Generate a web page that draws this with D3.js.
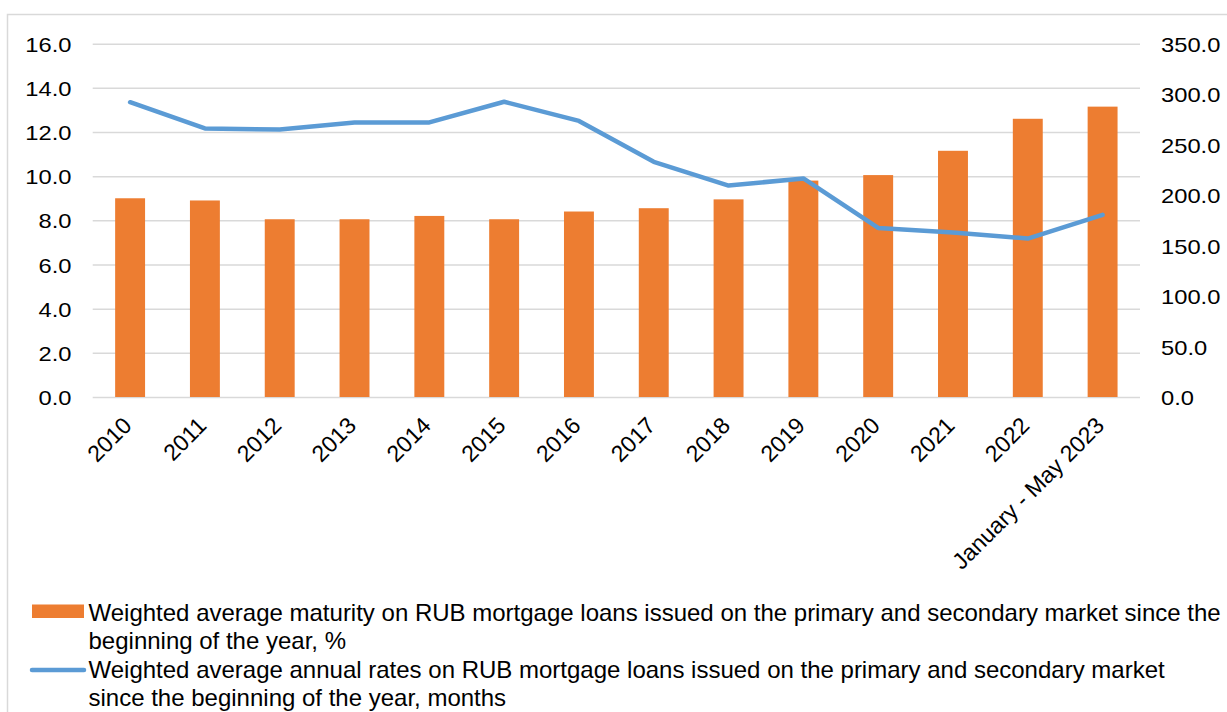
<!DOCTYPE html>
<html>
<head>
<meta charset="utf-8">
<script src="https://cdn.jsdelivr.net/npm/d3@7"></script>
<style>
  body { margin: 0; background: #fff; }
  svg { display: block; font-family: "Liberation Sans", Arial, sans-serif; }
</style>
</head>
<body>
<div id="chart"></div>
<script>
// Chart data
const categories = ['2010', '2011', '2012', '2013', '2014', '2015', '2016', '2017',
    '2018', '2019', '2020', '2021', '2022', 'January - May 2023'];
const maturityValues = [9.0, 8.9, 8.05, 8.05, 8.2, 8.05, 8.4, 8.55, 8.95, 9.8, 10.05, 11.15, 12.6, 13.15];
const rateValues = [292, 266, 265, 272, 272, 292.5, 273.5, 233, 209.5, 216.5, 167.5, 163, 157, 180.5];
const leftTicks = [0, 2, 4, 6, 8, 10, 12, 14, 16];
const rightTicks = [0, 50, 100, 150, 200, 250, 300, 350];
const legendLabels = [
    ['Weighted average maturity on RUB mortgage loans issued on the primary and secondary market since the',
     'beginning of the year, %'],
    ['Weighted average annual rates on RUB mortgage loans issued on the primary and secondary market',
     'since the beginning of the year, months']
];

const config = {
    width: 1227,
    height: 712,
    plot: { left: 92.7, right: 1140, top: 43.7, bottom: 397 },
    barColor: '#ed7d31',
    lineColor: '#5b9bd5',
    gridColor: '#d9d9d9',
    tickFont: 21,
    tickStretch: 1.13
};

const svg = d3.select('#chart')
    .append('svg')
    .attr('width', config.width)
    .attr('height', config.height);

// Outer chart border (runs off the right and bottom edges)
svg.append('rect')
    .attr('x', 7.5)
    .attr('y', 14.5)
    .attr('width', 1260)
    .attr('height', 740)
    .attr('fill', 'none')
    .attr('stroke', config.gridColor)
    .attr('stroke-width', 1.5);

// Scales
const x = d3.scaleBand()
    .domain(categories)
    .range([config.plot.left, config.plot.right])
    .paddingInner(0.6)
    .paddingOuter(0.3);

const yLeft = d3.scaleLinear()
    .domain([0, 16])
    .range([config.plot.bottom, config.plot.top]);

const yRight = d3.scaleLinear()
    .domain([0, 350])
    .range([config.plot.bottom, config.plot.top]);

// Grid
svg.append('g')
    .attr('class', 'grid')
    .attr('transform', `translate(${config.plot.left},0)`)
    .call(d3.axisLeft(yLeft)
        .tickValues(leftTicks)
        .tickSize(-(config.plot.right - config.plot.left))
        .tickFormat(''))
    .call(g => g.select('.domain').remove())
    .call(g => g.selectAll('line')
        .attr('stroke', config.gridColor)
        .attr('stroke-width', 1.5));

// Tick text styling shared by both value axes
function styleTicks(g) {
    g.select('.domain').remove();
    g.selectAll('text')
        .attr('fill', '#000')
        .attr('transform', `scale(${config.tickStretch},1)`)
        .style('font-size', config.tickFont + 'px')
        .style('font-family', '"Liberation Sans", Arial, sans-serif');
}

// Left axis labels
svg.append('g')
    .attr('transform', 'translate(71.5,0.8)')
    .call(d3.axisLeft(yLeft)
        .tickValues(leftTicks)
        .tickSize(0)
        .tickPadding(0)
        .tickFormat(d3.format('.1f')))
    .call(styleTicks);

// Right axis labels
svg.append('g')
    .attr('transform', 'translate(1161,0.8)')
    .call(d3.axisRight(yRight)
        .tickValues(rightTicks)
        .tickSize(0)
        .tickPadding(0)
        .tickFormat(d3.format('.1f')))
    .call(styleTicks);

// Bars
svg.append('g')
    .selectAll('rect')
    .data(categories)
    .enter()
    .append('rect')
    .attr('x', d => x(d))
    .attr('width', x.bandwidth())
    .attr('y', (d, i) => yLeft(maturityValues[i]))
    .attr('height', (d, i) => yLeft(0) - yLeft(maturityValues[i]))
    .attr('fill', config.barColor);

// Line
const line = d3.line()
    .x((d, i) => x(categories[i]) + x.bandwidth() / 2)
    .y(d => yRight(d));

svg.append('path')
    .datum(rateValues)
    .attr('d', line)
    .attr('fill', 'none')
    .attr('stroke', config.lineColor)
    .attr('stroke-width', 4.5)
    .attr('stroke-linejoin', 'round')
    .attr('stroke-linecap', 'round');

// X labels, rotated
svg.append('g')
    .selectAll('text')
    .data(categories)
    .enter()
    .append('text')
    .attr('transform', d => `translate(${x(d) + x.bandwidth() / 2 + 3},427) rotate(-45)`)
    .attr('text-anchor', 'end')
    .style('font-size', '23px')
    .attr('fill', '#000')
    .text(d => d);

// Legend
const legend = svg.append('g').attr('class', 'legend');

legend.append('rect')
    .attr('x', 32)
    .attr('y', 604.5)
    .attr('width', 52)
    .attr('height', 13.5)
    .attr('fill', config.barColor);

legend.append('line')
    .attr('x1', 32)
    .attr('x2', 84)
    .attr('y1', 670)
    .attr('y2', 670)
    .attr('stroke', config.lineColor)
    .attr('stroke-width', 4.5)
    .attr('stroke-linecap', 'round');

legendLabels.forEach((lines, i) => {
    lines.forEach((t, j) => {
        legend.append('text')
            .attr('x', 88.5)
            .attr('y', 621 + i * 56.5 + j * 28)
            .style('font-size', '24px')
            .attr('fill', '#000')
            .text(t);
    });
});
</script>
</body>
</html>
